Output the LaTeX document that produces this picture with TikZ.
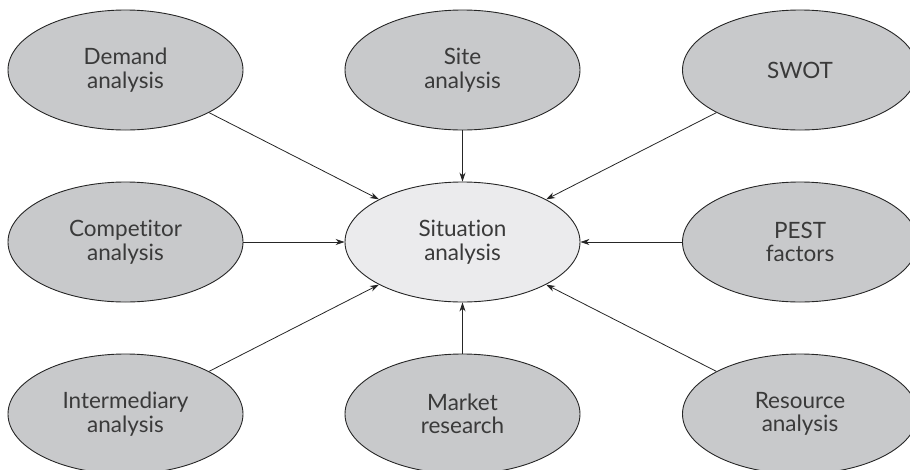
\documentclass[tikz,border=0pt]{standalone}
\usepackage{fontspec}
\setmainfont{Lato}[Ligatures=NoCommon]
\usetikzlibrary{shapes.geometric, arrows.meta, positioning}
\definecolor{grigio}{HTML}{C8C9CB}
\definecolor{chiaro}{HTML}{EBEBED}
\definecolor{testo}{HTML}{3A3A3A}

\begin{document}
\begin{tikzpicture}[x=1pt,y=1pt,
        fattore/.style={ellipse, draw=black!85, line width=0.9pt, fill=grigio,
            minimum width=235pt, minimum height=120pt, inner sep=0pt,
            align=center, text=testo, font=\fontsize{22.5}{23.5}\selectfont},
        centro/.style={fattore, fill=chiaro},
        freccia/.style={-{Stealth[length=9pt,width=6pt]}, line width=0.8pt, draw=black!85}]
        \useasboundingbox (0,0) rectangle (910,-469);
        %riga alta
            \node[fattore] (demand) at (125.5,-70) {Demand\\analysis};
            \node[fattore] (site) at (462.5,-70) {Site\\analysis};
            \node[fattore] (swot) at (800,-70) {SWOT};
        %riga centrale
            \node[fattore] (competitor) at (125.5,-242) {Competitor\\analysis};
            \node[centro] (situation) at (462.5,-242) {Situation\\analysis};
            \node[fattore] (pest) at (800,-242) {PEST\\factors};
        %riga bassa
            \node[fattore] (intermediary) at (125.5,-414) {Intermediary\\analysis};
            \node[fattore] (market) at (462.5,-414) {Market\\research};
            \node[fattore] (resource) at (800,-414) {Resource\\analysis};
        %frecce verso il centro
            \draw[freccia] (demand) -- (situation);
            \draw[freccia] (site) -- (situation);
            \draw[freccia] (swot) -- (situation);
            \draw[freccia] (competitor) -- (situation);
            \draw[freccia] (pest) -- (situation);
            \draw[freccia] (intermediary) -- (situation);
            \draw[freccia] (market) -- (situation);
            \draw[freccia] (resource) -- (situation);
\end{tikzpicture}
\end{document}
